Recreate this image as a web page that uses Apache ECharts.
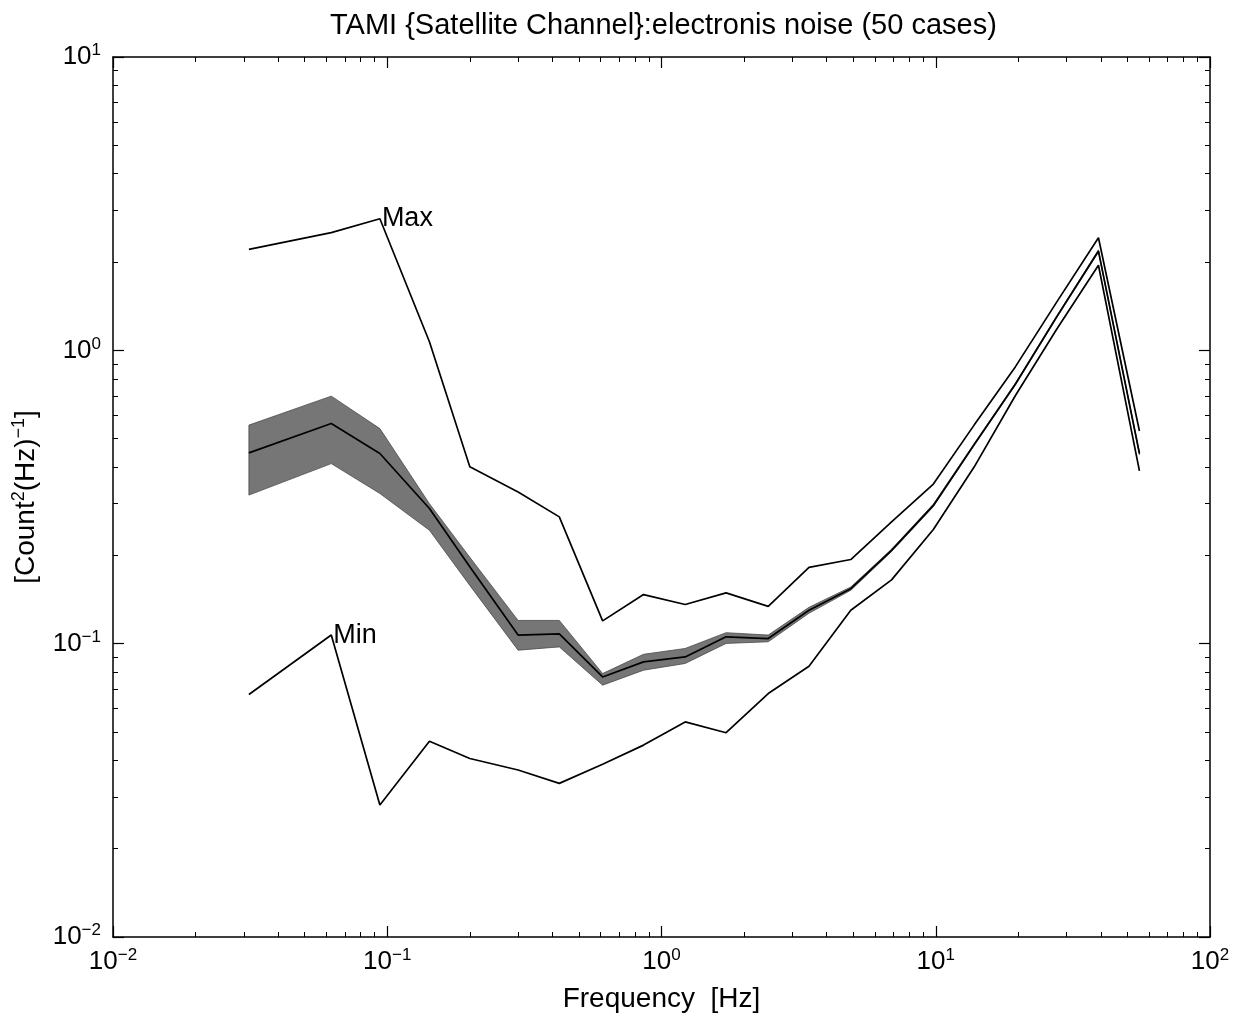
<!DOCTYPE html>
<html><head><meta charset="utf-8">
<script src="https://cdn.jsdelivr.net/npm/echarts@6/dist/echarts.min.js"></script>
<style>html,body{margin:0;padding:0;background:#fff}#c{width:1239px;height:1025px}</style>
</head><body><div id="c"></div>
<script>
// Frequencies [Hz]
const freq = [0.0313, 0.0625, 0.094, 0.1425, 0.2, 0.3, 0.424, 0.61, 0.86, 1.22, 1.72, 2.45, 3.45, 4.9, 6.9, 9.8, 13.8, 19.5, 27.6, 39.2, 55.3];
// Max over the 50 cases
const maxVals = [2.21, 2.52, 2.81, 1.07, 0.401, 0.329, 0.2705, 0.1196, 0.147, 0.136, 0.149, 0.134, 0.182, 0.1936, 0.26, 0.35, 0.556, 0.878, 1.46, 2.42, 0.531];
// Mean
const meanVals = [0.447, 0.563, 0.445, 0.289, 0.183, 0.107, 0.108, 0.077, 0.0867, 0.0901, 0.1055, 0.1041, 0.130, 0.154, 0.208, 0.296, 0.477, 0.766, 1.30, 2.18, 0.445];
// Min
const minVals = [0.0671, 0.107, 0.0282, 0.0465, 0.0406, 0.0371, 0.0334, 0.0388, 0.0451, 0.0541, 0.0497, 0.0676, 0.0838, 0.130, 0.165, 0.245, 0.40, 0.70, 1.18, 1.95, 0.388];
// Shaded band around the mean
const bandUpper = [0.556, 0.698, 0.541, 0.300, 0.197, 0.120, 0.120, 0.0791, 0.092, 0.0963, 0.109, 0.107, 0.133, 0.156, 0.210, 0.299, 0.481, 0.772, 1.31, 2.20, 0.449];
const bandLower = [0.321, 0.411, 0.325, 0.2436, 0.158, 0.095, 0.0975, 0.0722, 0.0812, 0.0856, 0.1002, 0.1015, 0.127, 0.152, 0.206, 0.293, 0.473, 0.760, 1.29, 2.16, 0.441];

const titleText = 'TAMI {Satellite Channel}:electronis noise (50 cases)';
const xName = 'Frequency  [Hz]';
const FONT = '"Liberation Sans", Arial, Helvetica, sans-serif';

function powLabel(v) {
  const e = Math.round(Math.log10(v));
  const s = e < 0 ? '\u2212' + (-e) : String(e);
  return '{b|10}{s|' + s + '}';
}
const labelRich = {
  b: { fontSize: 26, fontFamily: FONT, color: '#000', lineHeight: 30 },
  s: { fontSize: 17, fontFamily: FONT, color: '#000', lineHeight: 17, verticalAlign: 'top' }
};

function mkAxis(kind, pos, showLabel) {
  return {
    type: 'log', logBase: 10,
    min: 0.01,
    max: kind === 'x' ? 100 : 10,
    position: pos,
    axisLine: { show: true, onZero: false, lineStyle: { color: '#000', width: 1.5 } },
    axisTick: { show: true, inside: true, length: 11, lineStyle: { color: '#000', width: 1.2 } },
    minorTick: { show: true, splitNumber: 9, length: 5, lineStyle: { color: '#000', width: 1 } },
    splitLine: { show: false },
    minorSplitLine: { show: false },
    axisLabel: {
      show: showLabel, formatter: powLabel, rich: labelRich,
      margin: kind === 'x' ? 10 : 12
    }
  };
}

const chart = echarts.init(document.getElementById('c'), null, { renderer: 'canvas' });
const xMain = mkAxis('x', 'bottom', true);
xMain.name = xName;
xMain.nameLocation = 'middle';
xMain.nameGap = 48;
xMain.nameTextStyle = { fontSize: 28, fontFamily: FONT, color: '#000' };
const yMain = mkAxis('y', 'left', true);
yMain.name = '[Count{s|2}(Hz){s|\u22121}]';
yMain.nameLocation = 'middle';
yMain.nameRotate = 90;
yMain.nameGap = 66;
yMain.nameTextStyle = {
  fontSize: 28, fontFamily: FONT, color: '#000',
  rich: {
    s: { fontSize: 18, fontFamily: FONT, color: '#000', verticalAlign: 'top', lineHeight: 18 }
  },
  lineHeight: 32
};

const lineStyle = { color: '#000', width: 1.7 };
function lineSeries(name, vals, mark) {
  const s = {
    name: name, type: 'line', xAxisIndex: 0, yAxisIndex: 0,
    data: freq.map((f, i) => [f, vals[i]]),
    showSymbol: false, symbol: 'none', lineStyle: lineStyle, z: 5, silent: true
  };
  if (mark) {
    s.markPoint = {
      symbol: 'circle', symbolSize: 0, silent: true,
      label: { show: true, position: 'right', distance: 2, formatter: mark.text,
        fontSize: 27, fontFamily: FONT, color: '#000' },
      data: [{ coord: [freq[mark.idx], vals[mark.idx]] }]
    };
  }
  return s;
}

chart.setOption({
  animation: false,
  backgroundColor: '#fff',
  title: {
    text: titleText, left: 325, top: 6,
    textStyle: { fontSize: 29, fontWeight: 'normal', fontFamily: FONT, color: '#000' }
  },
  grid: { left: 113, right: 29, top: 57, bottom: 88, containLabel: false },
  xAxis: [xMain, mkAxis('x', 'top', false)],
  yAxis: [yMain, mkAxis('y', 'right', false)],
  series: [
    {
      type: 'custom', coordinateSystem: 'cartesian2d', xAxisIndex: 0, yAxisIndex: 0,
      data: freq.map((f, i) => [f, bandLower[i], bandUpper[i]]),
      encode: { x: 0, y: [1, 2] }, silent: true, z: 2,
      renderItem: function (params, api) {
        if (params.dataIndex !== 0) return null;
        const pts = [];
        for (let i = 0; i < freq.length; i++) pts.push(api.coord([freq[i], bandUpper[i]]));
        for (let i = freq.length - 1; i >= 0; i--) pts.push(api.coord([freq[i], bandLower[i]]));
        return { type: 'polygon', shape: { points: pts }, style: { fill: '#767676', stroke: '#4a4a4a', lineWidth: 0.8 } };
      }
    },
    lineSeries('Max', maxVals, { idx: 2, text: 'Max' }),
    lineSeries('Mean', meanVals, null),
    lineSeries('Min', minVals, { idx: 1, text: 'Min' })
  ]
});
</script>
</body></html>
